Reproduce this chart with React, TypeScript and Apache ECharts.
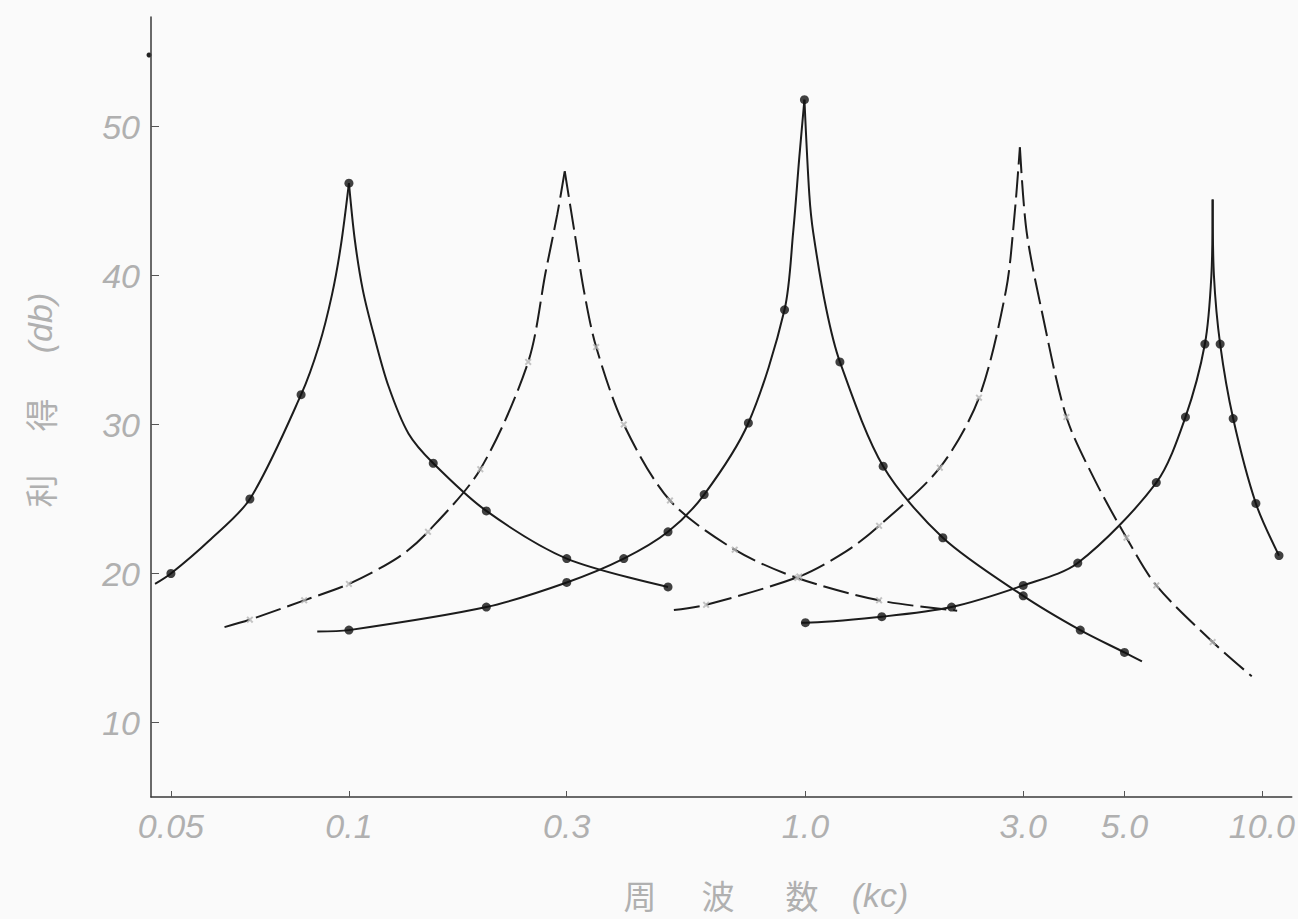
import React, { useEffect, useRef } from 'react';
import * as echarts from 'echarts';

// ---- axis ticks ----
const xTickFreqs = [0.05, 0.1, 0.3, 1.0, 3.0, 5.0, 10.0];
const xTickLabels = ['0.05', '0.1', '0.3', '1.0', '3.0', '5.0', '10.0'];
const yTickValues = [10, 20, 30, 40, 50];

// ---- curve 1 (solid, peak 0.1 kc) [freq kc, gain db] ----
const c1Rise = [[0.047, 19.3], [0.05, 20.0], [0.058, 22.2], [0.068, 25.0], [0.083, 32.0], [0.089, 35.3], [0.0936, 38.7], [0.0969, 42.0], [0.1, 46.2]];
const c1Fall = [[0.1, 46.2], [0.103, 42.4], [0.1073, 39.0], [0.1134, 36.0], [0.122, 32.6], [0.135, 29.4], [0.153, 27.4], [0.2, 24.2], [0.3, 21.0], [0.5, 19.1]];
const c1Dots = [[0.05, 20.0], [0.068, 25.0], [0.083, 32.0], [0.1, 46.2], [0.153, 27.4], [0.2, 24.2], [0.3, 21.0], [0.5, 19.1]];

// ---- curve 2 (dashed, peak 0.3 kc) ----
const c2Rise = [[0.0616, 16.4], [0.068, 16.9], [0.084, 18.2], [0.1, 19.3], [0.1285, 21.1], [0.149, 22.8], [0.194, 27.0], [0.247, 34.2], [0.27, 40.3], [0.286, 44.1], [0.297, 47.0]];
const c2Fall = [[0.297, 47.0], [0.312, 42.9], [0.328, 38.8], [0.348, 35.2], [0.4, 30.0], [0.505, 24.9], [0.7, 21.6], [0.96, 19.7], [1.45, 18.2], [2.15, 17.5]];
const c2Marks = [[0.068, 16.9], [0.084, 18.2], [0.1, 19.3], [0.149, 22.8], [0.194, 27.0], [0.247, 34.2], [0.348, 35.2], [0.4, 30.0], [0.505, 24.9], [0.7, 21.6], [0.96, 19.7], [1.45, 18.2]];

// ---- curve 3 (solid, peak 1.0 kc) ----
const c3Rise = [[0.0884, 16.1], [0.1, 16.2], [0.2, 17.75], [0.3, 19.4], [0.4, 21.0], [0.5, 22.8], [0.6, 25.3], [0.75, 30.1], [0.9, 37.7], [0.94, 42.9], [0.97, 48.0], [0.995, 51.8]];
const c3Fall = [[0.995, 51.8], [1.02, 45.4], [1.04, 42.9], [1.11, 37.8], [1.19, 34.2], [1.48, 27.2], [2.0, 22.4], [3.0, 18.5], [4.0, 16.2], [5.0, 14.7], [5.46, 14.1]];
const c3Dots = [[0.1, 16.2], [0.2, 17.75], [0.3, 19.4], [0.4, 21.0], [0.5, 22.8], [0.6, 25.3], [0.75, 30.1], [0.9, 37.7], [0.995, 51.8], [1.19, 34.2], [1.48, 27.2], [2.0, 22.4], [3.0, 18.5], [4.0, 16.2], [5.0, 14.7]];

// ---- curve 4 (dashed, peak 3.0 kc) ----
const c4Rise = [[0.515, 17.55], [0.606, 17.9], [0.97, 19.8], [1.23, 21.5], [1.45, 23.2], [1.97, 27.1], [2.4, 31.8], [2.75, 39.0], [2.87, 44.0], [2.95, 48.6]];
const c4Fall = [[2.95, 48.6], [3.05, 43.0], [3.3, 37.5], [3.73, 30.5], [4.3, 26.3], [5.05, 22.4], [5.87, 19.2], [7.8, 15.4], [9.5, 13.1]];
const c4Marks = [[0.606, 17.9], [0.97, 19.8], [1.45, 23.2], [1.97, 27.1], [2.4, 31.8], [3.73, 30.5], [5.05, 22.4], [5.87, 19.2], [7.8, 15.4]];

// ---- curve 5 (solid, peak ~7.8 kc) ----
const c5Rise = [[0.98, 16.7], [1.0, 16.7], [1.47, 17.1], [2.09, 17.75], [3.0, 19.2], [3.95, 20.7], [5.87, 26.1], [6.8, 30.5], [7.5, 35.4], [7.75, 40.0], [7.8, 45.1]];
const c5Fall = [[7.8, 45.1], [7.85, 40.0], [8.1, 35.4], [8.65, 30.4], [9.7, 24.7], [10.9, 21.2]];
const c5Dots = [[1.0, 16.7], [1.47, 17.1], [2.09, 17.75], [3.0, 19.2], [3.95, 20.7], [5.87, 26.1], [6.8, 30.5], [7.5, 35.4], [8.1, 35.4], [8.65, 30.4], [9.7, 24.7], [10.9, 21.2]];

// The printed frequency scale is logarithmic above 0.1 kc and drawn
// somewhat stretched below it; map frequency onto that scale.
const LOW_STRETCH = 1.2954;
function toU(f: number): number {
  return f >= 0.1 ? Math.log10(f) : -1 - LOW_STRETCH * Math.log10(0.1 / f);
}
const conv = (arr: number[][]) => arr.map(([f, g]) => [toU(f), g]);

const INK = '#1c1c1c';
const LABEL = '#b0b0b0';
const NUM_FONT = '"Liberation Sans", sans-serif';
const CJK_FONT = '"Noto Sans CJK JP", "Noto Sans CJK SC", sans-serif';
const CROSS = 'path://M2,0 L5,3 L8,0 L10,2 L7,5 L10,8 L8,10 L5,7 L2,10 L0,8 L3,5 L0,2 Z';

function lineSeries(data: number[][], dashed: boolean) {
  return {
    type: 'line',
    data: conv(data),
    symbol: 'none',
    smooth: 0.3,
    silent: true,
    z: 2,
    lineStyle: { color: INK, width: 2, type: dashed ? [26, 7] : 'solid' },
  };
}
function dotSeries(data: number[][]) {
  return {
    type: 'scatter',
    data: conv(data),
    symbol: 'circle',
    symbolSize: 9,
    silent: true,
    z: 4,
    itemStyle: { color: '#111' },
  };
}
function crossSeries(data: number[][]) {
  return {
    type: 'scatter',
    data: conv(data),
    symbol: CROSS,
    symbolSize: 7,
    silent: true,
    z: 4,
    itemStyle: { color: '#b5b5b5' },
  };
}

function cjk(text: string, x: number, y: number, rot: number) {
  return {
    type: 'text',
    x,
    y,
    rotation: rot,
    silent: true,
    style: {
      text,
      fill: LABEL,
      font: `normal 33px ${CJK_FONT}`,
      align: 'center',
      verticalAlign: 'middle',
    },
  };
}
function latin(text: string, x: number, y: number, rot: number) {
  return {
    type: 'text',
    x,
    y,
    rotation: rot,
    silent: true,
    style: {
      text,
      fill: LABEL,
      font: `italic normal 34px ${NUM_FONT}`,
      align: 'center',
      verticalAlign: 'middle',
    },
  };
}

export default function App() {
  const ref = useRef<HTMLDivElement>(null);
  useEffect(() => {
    if (!ref.current) return;
    const chart = echarts.init(ref.current, undefined, { renderer: 'svg' });
    const xTickU = xTickFreqs.map(toU);
    chart.setOption({
      animation: false,
      backgroundColor: '#fafafa',
      grid: { left: 151, right: 0, top: 17, bottom: 122 },
      xAxis: {
        type: 'value',
        min: -1.4336,
        max: 1.0654,
        splitLine: { show: false },
        axisLine: { show: true, onZero: false, lineStyle: { color: '#3a3a3a', width: 1.5 } },
        axisTick: { show: true, inside: true, length: 6, customValues: xTickU, lineStyle: { color: '#555' } },
        axisLabel: {
          show: true,
          customValues: xTickU,
          margin: 12,
          color: LABEL,
          fontFamily: NUM_FONT,
          fontStyle: 'italic',
          fontSize: 34,
          formatter: (v: number) => {
            const i = xTickU.findIndex((u) => Math.abs(u - v) < 1e-6);
            return i >= 0 ? xTickLabels[i] : '';
          },
        },
      },
      yAxis: {
        type: 'value',
        min: 5,
        max: 57.35,
        splitLine: { show: false },
        axisLine: { show: true, onZero: false, lineStyle: { color: '#3a3a3a', width: 1.5 } },
        axisTick: { show: true, inside: true, length: 8, customValues: yTickValues, lineStyle: { color: '#555' } },
        axisLabel: {
          show: true,
          customValues: yTickValues,
          margin: 11,
          color: LABEL,
          fontFamily: NUM_FONT,
          fontStyle: 'italic',
          fontSize: 34,
          formatter: (v: number) => String(v),
        },
      },
      graphic: [
        { type: 'circle', shape: { cx: 149, cy: 55, r: 2.5 }, style: { fill: '#222' }, silent: true },
        cjk('利', 40, 491, Math.PI / 2),
        cjk('得', 40, 415, Math.PI / 2),
        latin('(db)', 40, 323, Math.PI / 2),
        cjk('周', 640, 895, 0),
        cjk('波', 718, 895, 0),
        cjk('数', 802, 895, 0),
        latin('(kc)', 880, 895, 0),
      ],
      series: [
        lineSeries(c1Rise, false),
        lineSeries(c1Fall, false),
        dotSeries(c1Dots),
        lineSeries(c2Rise, true),
        lineSeries(c2Fall, true),
        crossSeries(c2Marks),
        lineSeries(c3Rise, false),
        lineSeries(c3Fall, false),
        dotSeries(c3Dots),
        lineSeries(c4Rise, true),
        lineSeries(c4Fall, true),
        crossSeries(c4Marks),
        lineSeries(c5Rise, false),
        lineSeries(c5Fall, false),
        dotSeries(c5Dots),
      ],
    });
    return () => chart.dispose();
  }, []);
  return <div ref={ref} style={{ position: 'fixed', left: 0, top: 0, width: 1298, height: 919 }} />;
}
